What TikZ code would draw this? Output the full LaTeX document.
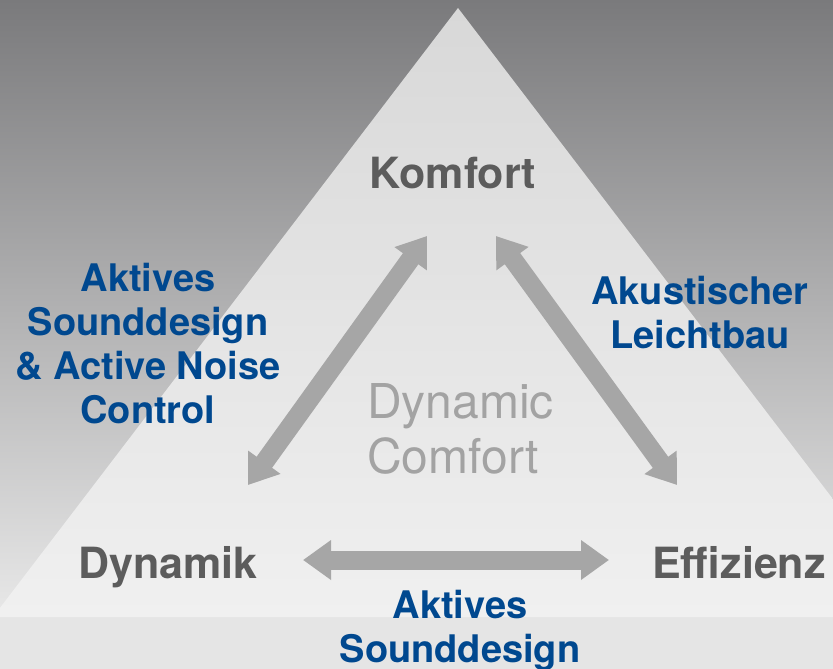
\documentclass[tikz,border=0pt]{standalone}
\usepackage{fontspec}
\setmainfont{TeX Gyre Heros}
\usetikzlibrary{arrows.meta}
\definecolor{bluelab}{HTML}{00488F}
\definecolor{darklab}{HTML}{5C5C5C}
\definecolor{lightlab}{HTML}{A3A3A3}
\definecolor{arrowgray}{HTML}{A6A6A6}
\definecolor{bgtop}{RGB}{122,122,124}
\definecolor{bgbot}{RGB}{232,232,232}
\definecolor{band}{RGB}{229,229,229}
\definecolor{tritop}{RGB}{216,216,216}
\definecolor{tribot}{RGB}{240,240,240}
\tikzset{
  corner/.style={inner sep=0pt, anchor=base, text=darklab, font=\bfseries\fontsize{43}{44}\selectfont},
  relation/.style={inner sep=0pt, anchor=base, align=center, text=bluelab, font=\bfseries\fontsize{38}{44}\selectfont},
  centre/.style={inner sep=0pt, anchor=base west, align=left, text=lightlab, font=\fontsize{48}{55}\selectfont},
  dblarrow/.style={draw=arrowgray, line width=19pt,
    {Triangle[width=38pt,length=28pt]}-{Triangle[width=38pt,length=28pt]}}
}
\begin{document}
\begin{tikzpicture}[x=1pt,y=-1pt]
\useasboundingbox (0,0) rectangle (833,669);
% background
\shade[top color=bgtop, bottom color=bgbot] (0,0) rectangle (833,617);
\fill[band] (0,617) rectangle (833,669);
% triangle
\begin{scope}
\clip (0,0) rectangle (833,669);
\shade[top color=tritop, bottom color=tribot] (458,8) -- (923,617) -- (-7,617) -- cycle;
\end{scope}
% corner labels
\node[corner] (komfort) at (453,188) {Komfort};
\node[corner] (dynamik) at (168,578) {Dynamik};
\node[corner] (effizienz) at (739,578) {Effizienz};
% centre (base = last line)
\node[centre] (dc) at (367,473) {Dynamic\\Comfort};
% relation labels (base = last line)
\node[relation] (asd) at (148,423) {Aktives\\Sounddesign\\\& Active Noise\\Control};
\node[relation] (alb) at (700,348) {Akustischer\\Leichtbau};
\node[relation] (asd2) at (460,662) {Aktives\\Sounddesign};
% arrow ends
\coordinate (l1) at (427,236);
\coordinate (l2) at (248,485);
\coordinate (r1) at (496,236);
\coordinate (r2) at (677,485);
\coordinate (h1) at (303,560);
\coordinate (h2) at (609,560);
\draw[dblarrow] (l1) -- (l2);
\draw[dblarrow] (r1) -- (r2);
\draw[dblarrow] (h1) -- (h2);
\end{tikzpicture}
\end{document}
